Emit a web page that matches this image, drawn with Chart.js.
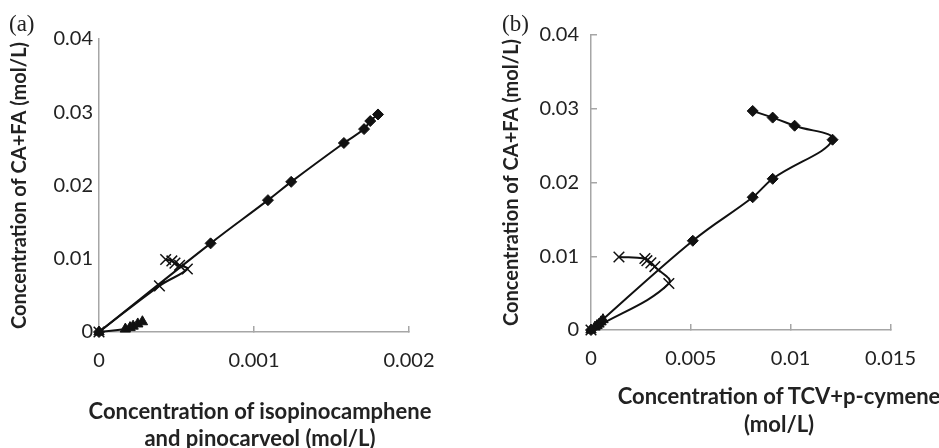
<!DOCTYPE html>
<html>
<head>
<meta charset="utf-8">
<script src="https://cdn.jsdelivr.net/npm/chart.js@4.4.0/dist/chart.umd.min.js"></script>
<style>
body { margin: 0; background: #fff; }
#wrap { position: relative; width: 939px; height: 448px; overflow: hidden; }
canvas { position: absolute; top: 0; }
.panel { position: absolute; font-family: 'Liberation Serif', serif; font-size: 23px; color: #222; transform: translateY(-50%); }
.xtitle { position: absolute; font-family: Lato, sans-serif; font-weight: bold; font-size: 22px; color: #222; transform: translate(-50%, -50%); white-space: nowrap; }
</style>
</head>
<body>
<div id="wrap">
  <canvas id="chartA" width="470" height="448" style="left:0"></canvas>
  <canvas id="chartB" width="469" height="448" style="left:470px"></canvas>
  <div class="panel" style="left:9px; top:24px">(a)</div>
  <div class="panel" style="left:502px; top:24px">(b)</div>
  <div class="xtitle" style="left:260px; top:410px">Concentration of isopinocamphene</div>
  <div class="xtitle" style="left:260px; top:437px">and pinocarveol (mol/L)</div>
  <div class="xtitle" style="left:779px; top:395px">Concentration of TCV+p-cymene</div>
  <div class="xtitle" style="left:779px; top:423px">(mol/L)</div>
</div>
<script>
// shared y values (CA+FA, mol/L)
var yDiamond = [0, 0.0121, 0.0180, 0.0205, 0.0258, 0.0277, 0.0288, 0.0297];
var yCross = [0, 0.0063, 0.0086, 0.0091, 0.0094, 0.0097, 0.0099];
var yTriangle = [0, 0.0004, 0.0006, 0.0008, 0.0011, 0.0014];

// (a) isopinocamphene + pinocarveol
var xDiamondA = [0, 0.00072, 0.00109, 0.00124, 0.00158, 0.00171, 0.00175, 0.0018];
var xCrossA = [0, 0.00039, 0.00057, 0.00052, 0.00049, 0.00047, 0.00043];
var xTriangleA = [0, 0.00017, 0.0002, 0.00022, 0.00025, 0.00028];

// (b) TCV + p-cymene
var xDiamondB = [0, 0.0051, 0.0081, 0.0091, 0.0121, 0.0102, 0.0091, 0.0081];
var xCrossB = [0, 0.0039, 0.0032, 0.0030, 0.0028, 0.0027, 0.0014];
var xTriangleB = [0, 0.0002, 0.0003, 0.0004, 0.0005, 0.0006];

// tick labels
var yTicks = [0, 0.01, 0.02, 0.03, 0.04];
var xTicksA = [0, 0.001, 0.002];
var xTicksB = [0, 0.005, 0.01, 0.015];

var yTitle = 'Concentration of CA+FA (mol/L)';

Chart.defaults.font.family = 'Lato';
Chart.defaults.color = '#222';

function pts(xs, ys) {
    var out = [];
    for (var i = 0; i < xs.length; i++) {
        out.push({ x: xs[i], y: ys[i] });
    }
    return out;
}

function series(xs, ys, style, radius) {
    return {
        data: pts(xs, ys),
        showLine: true,
        tension: 0.4,
        borderColor: '#111',
        borderWidth: 2,
        pointStyle: style,
        pointRadius: radius,
        pointBackgroundColor: '#111',
        pointBorderColor: '#111',
        pointBorderWidth: style === 'crossRot' ? 1.5 : 1,
        clip: false
    };
}

function makeChart(id, xs, xTicks, opt) {
    var ctx = document.getElementById(id).getContext('2d');
    return new Chart(ctx, {
        type: 'scatter',
        data: {
            datasets: [
                series(xs[0], yDiamond, 'rectRot', 5.5),
                series(xs[1], yCross, 'crossRot', 7.5),
                series(xs[2], yTriangle, 'triangle', 6)
            ]
        },
        options: {
            responsive: false,
            animation: false,
            layout: { padding: { left: 0, right: opt.right, top: opt.top, bottom: 0 } },
            plugins: { legend: { display: false }, tooltip: { enabled: false } },
            scales: {
                x: {
                    type: 'linear',
                    min: xTicks[0],
                    max: xTicks[xTicks.length - 1],
                    afterBuildTicks: function(s) { s.ticks = xTicks.map(function(v) { return { value: v }; }); },
                    afterFit: function(s) { s.height = 448 - opt.bottom; },
                    ticks: { font: { size: 20 }, padding: 17 + 6, maxRotation: 0, callback: function(v) { return String(v); } },
                    grid: { display: true, drawOnChartArea: false, drawTicks: true, tickLength: -6, color: '#a6a6a6', lineWidth: 1.5 },
                    border: { color: '#a6a6a6', width: 1.5 }
                },
                y: {
                    type: 'linear',
                    min: 0,
                    max: 0.04,
                    afterBuildTicks: function(s) { s.ticks = yTicks.map(function(v) { return { value: v }; }); },
                    afterFit: function(s) { s.width = opt.left; },
                    ticks: { font: { size: 20 }, padding: opt.yTickLines ? 12 + 6 : 12, callback: function(v) { return String(v); } },
                    grid: { display: opt.yTickLines, drawOnChartArea: false, drawTicks: true, tickLength: -6, color: '#a6a6a6', lineWidth: 1.5 },
                    border: { color: '#a6a6a6', width: 1.5 },
                    title: {
                        display: true,
                        text: yTitle,
                        font: { size: 20, weight: 'bold' },
                        padding: { top: opt.titlePad, bottom: 0 }
                    }
                }
            }
        }
    });
}

makeChart('chartA', [xDiamondA, xCrossA, xTriangleA], xTicksA,
    { left: 99, right: 470 - 409, top: 39, bottom: 332, titlePad: 8, yTickLines: false });
makeChart('chartB', [xDiamondB, xCrossB, xTriangleB], xTicksB,
    { left: 121, right: 28, top: 35, bottom: 330, titlePad: 30, yTickLines: true });
</script>
</body>
</html>
